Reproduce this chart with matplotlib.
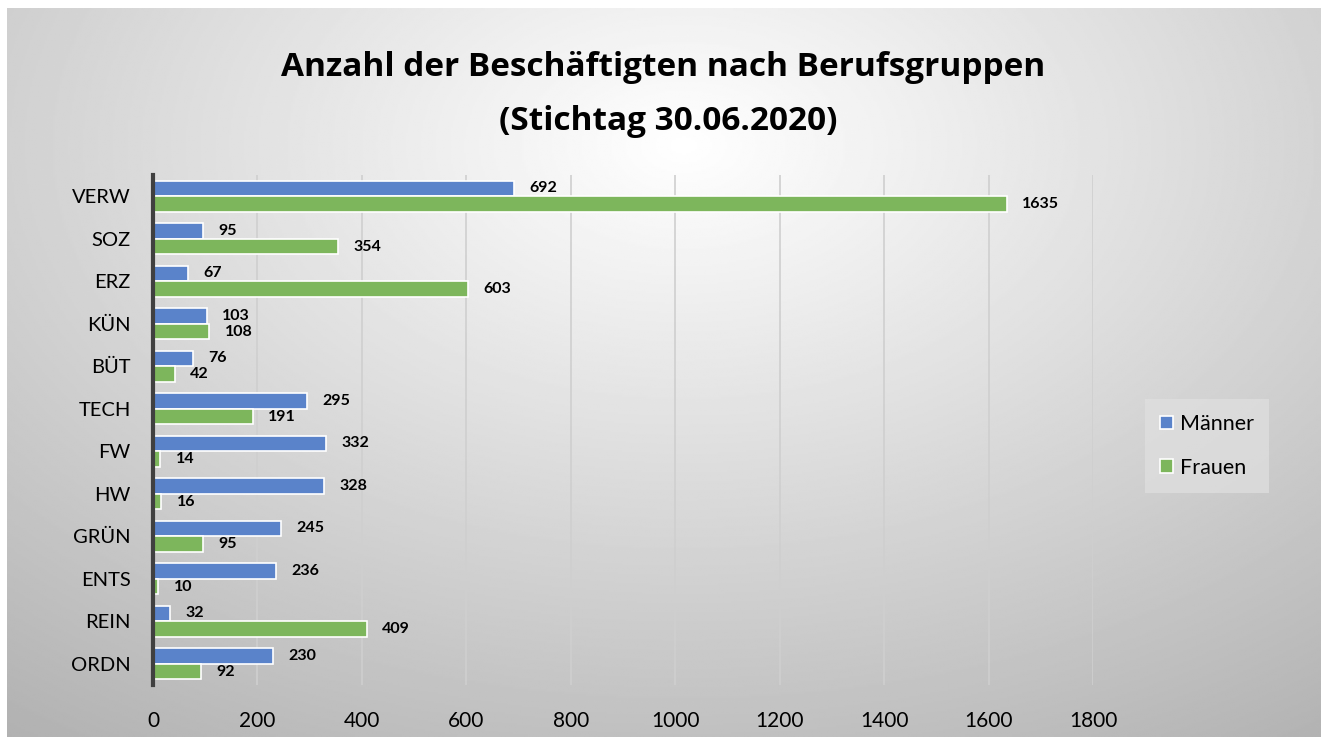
import numpy as np
import matplotlib.pyplot as plt

# data, top to bottom as shown in the chart
categories = ["VERW", "SOZ", "ERZ", "KÜN", "BÜT", "TECH", "FW", "HW", "GRÜN", "ENTS", "REIN", "ORDN"]
maenner = [692, 95, 67, 103, 76, 295, 332, 328, 245, 236, 32, 230]
frauen = [1635, 354, 603, 108, 42, 191, 14, 16, 95, 10, 409, 92]
xticks = [0, 200, 400, 600, 800, 1000, 1200, 1400, 1600, 1800]

blue = "#5A83CA"
green = "#7DB65C"

plt.rcParams['font.family'] = ['Lato', 'DejaVu Sans']

W, H = 1327, 742
fig = plt.figure(figsize=(W / 100, H / 100), dpi=100)
fig.patch.set_facecolor("white")

# radial grey background of the chart area
bg = fig.add_axes([7 / W, 5 / H, 1314 / W, 729 / H])
yy, xx = np.mgrid[0:400, 0:700]
cx, cy = 360, 75
d = np.sqrt(((xx - cx) / 700) ** 2 + ((yy - cy) / 460) ** 2)
g = np.clip(1.0 - 0.35 * d, 0, 1)
bg.imshow(g, cmap="gray", vmin=0, vmax=1, aspect="auto", extent=[0, 1, 0, 1], origin="upper")
bg.set_axis_off()

ax = fig.add_axes([153 / W, (H - 685) / H, (1093 - 153) / W, (685 - 175) / H])
ax.patch.set_alpha(0)

y = np.arange(len(categories))
h = 0.365
ax.barh(y - h / 2, maenner, height=h, color=blue, edgecolor="white", linewidth=1.2, label="Männer", zorder=3)
ax.barh(y + h / 2, frauen, height=h, color=green, edgecolor="white", linewidth=1.2, label="Frauen", zorder=3)

for i in range(len(categories)):
    ax.annotate(str(maenner[i]), (maenner[i], y[i] - h / 2), xytext=(11, 0), textcoords="offset points",
                ha="left", va="center", fontsize=11.5, fontweight="bold", color="black")
    ax.annotate(str(frauen[i]), (frauen[i], y[i] + h / 2), xytext=(11, 0), textcoords="offset points",
                ha="left", va="center", fontsize=11.5, fontweight="bold", color="black")

ax.set_ylim(len(categories) - 0.5, -0.5)
ax.set_xlim(0, 1800)
ax.set_yticks(y)
ax.set_yticklabels(categories, fontsize=14.5)
ax.set_xticks(xticks)
ax.set_xticklabels([str(v) for v in xticks], fontsize=15)
ax.tick_params(axis="both", length=0)
ax.tick_params(axis="y", pad=16)
ax.tick_params(axis="x", pad=19)
ax.grid(axis="x", color="#cfcfcf", linewidth=1.2, zorder=0)
for s in ["top", "right", "bottom"]:
    ax.spines[s].set_visible(False)
ax.spines["left"].set_color("#404040")
ax.spines["left"].set_linewidth(3)
ax.spines["left"].set_zorder(4)

fig.text(663 / W, 1 - 68 / H, "Anzahl der Beschäftigten nach Berufsgruppen", ha="center", va="center",
         fontsize=24, fontweight="bold", family=["Open Sans", "DejaVu Sans"])
fig.text(668 / W, 1 - 121 / H, "(Stichtag 30.06.2020)", ha="center", va="center",
         fontsize=24, fontweight="bold", family=["Open Sans", "DejaVu Sans"])

leg = fig.legend(loc="center", bbox_to_anchor=(1207 / W, 1 - 446 / H), fontsize=15.5, frameon=True,
                 fancybox=False, handlelength=0.6, handleheight=0.6, labelspacing=1.1,
                 handletextpad=0.3, borderpad=0.7)
leg.get_frame().set_facecolor("#e0e0e0")
leg.get_frame().set_alpha(0.7)
leg.get_frame().set_linewidth(0)

fig.savefig("out.png", dpi=100)
